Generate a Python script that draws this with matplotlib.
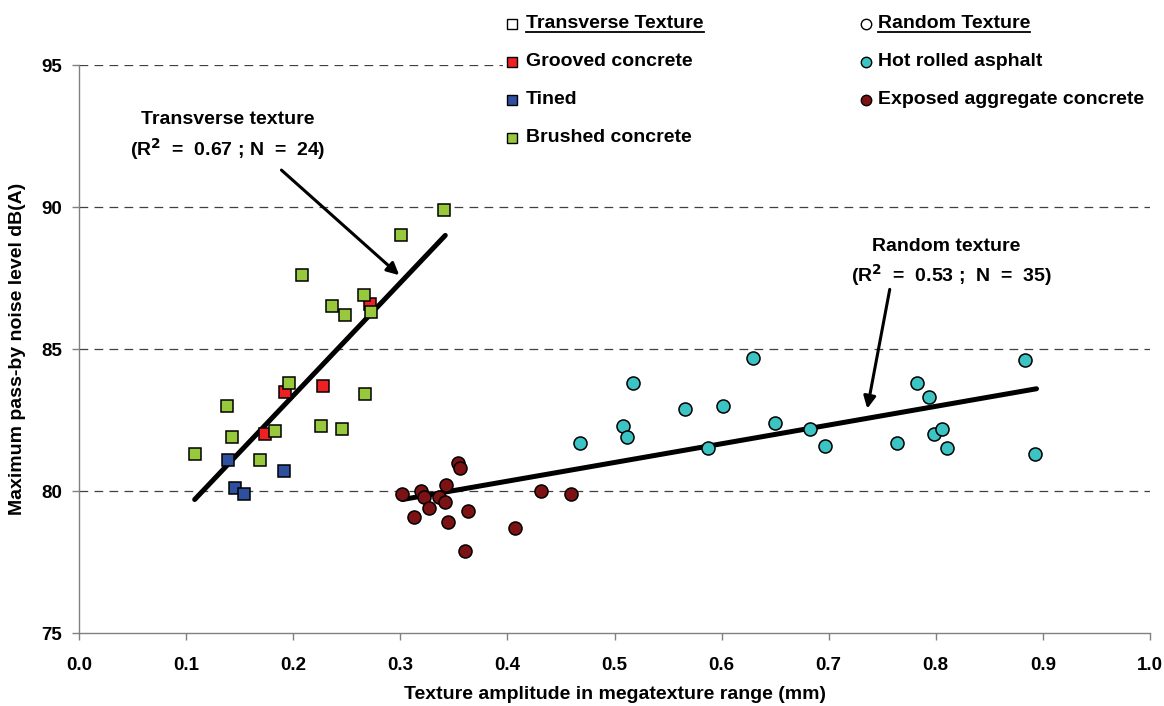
import matplotlib
matplotlib.use("Agg")
import matplotlib.pyplot as plt
from matplotlib.lines import Line2D
from matplotlib.patches import Rectangle

plt.rcParams["font.family"] = ["Liberation Sans", "DejaVu Sans"]
plt.rcParams["font.weight"] = "bold"
plt.rcParams["axes.labelweight"] = "bold"

# --- transverse texture (squares) ---
grooved_x = [0.272, 0.192, 0.228, 0.174]
grooved_y = [86.6, 83.5, 83.7, 82.0]

tined_x = [0.139, 0.191, 0.146, 0.154]
tined_y = [81.1, 80.7, 80.1, 79.9]

brushed_x = [0.341, 0.301, 0.208, 0.266, 0.236, 0.248, 0.273, 0.196,
             0.138, 0.267, 0.143, 0.183, 0.226, 0.246, 0.108, 0.169]
brushed_y = [89.9, 89.0, 87.6, 86.9, 86.5, 86.2, 86.3, 83.8,
             83.0, 83.4, 81.9, 82.1, 82.3, 82.2, 81.3, 81.1]

# --- random texture (circles) ---
asphalt_x = [0.468, 0.508, 0.512, 0.517, 0.566, 0.587, 0.601, 0.629,
             0.650, 0.683, 0.697, 0.764, 0.782, 0.794, 0.798, 0.806,
             0.810, 0.883, 0.893]
asphalt_y = [81.7, 82.3, 81.9, 83.8, 82.9, 81.5, 83.0, 84.7,
             82.4, 82.2, 81.6, 81.7, 83.8, 83.3, 82.0, 82.2,
             81.5, 84.6, 81.3]

exposed_x = [0.302, 0.319, 0.322, 0.343, 0.336, 0.342, 0.327, 0.313,
             0.345, 0.363, 0.354, 0.356, 0.360, 0.407, 0.431, 0.459]
exposed_y = [79.9, 80.0, 79.8, 80.2, 79.8, 79.6, 79.4, 79.1,
             78.9, 79.3, 81.0, 80.8, 77.9, 78.7, 80.0, 79.9]

# trend lines, end points
trans_fit_x = [0.108, 0.342]
trans_fit_y = [79.7, 89.0]
rand_fit_x = [0.302, 0.894]
rand_fit_y = [79.7, 83.6]

x_ticks = [0.0, 0.1, 0.2, 0.3, 0.4, 0.5, 0.6, 0.7, 0.8, 0.9, 1.0]
y_ticks = [75, 80, 85, 90, 95]

RED = "#ee2024"
BLUE = "#2f4f9f"
GREEN = "#98c83c"
CYAN = "#3cc3c3"
MAROON = "#7d1214"

W, H = 1164, 706
fig = plt.figure(figsize=(W / 100, H / 100), dpi=100)
ax = fig.add_axes([79 / W, 1 - 633 / H, (1150 - 79) / W, (633 - 65) / H])

ax.set_xlim(0, 1)
ax.set_ylim(75, 95)
ax.set_xticks(x_ticks)
ax.set_xticklabels([f"{v:.1f}" for v in x_ticks])
ax.set_yticks(y_ticks)
ax.tick_params(labelsize=13.5, length=5, color="#808080", width=1)
ax.tick_params(axis="x", pad=12)
ax.tick_params(axis="y", pad=7)
for s in ["top", "right"]:
    ax.spines[s].set_visible(False)
for s in ["left", "bottom"]:
    ax.spines[s].set_color("#808080")
    ax.spines[s].set_linewidth(1)

for yv in y_ticks[1:]:
    ax.axhline(yv, color="#404040", lw=0.9, ls=(0, (7, 5)), zorder=0)

ax.set_xlabel("Texture amplitude in megatexture range (mm)", fontsize=14, labelpad=9)
ax.set_ylabel("Maximum pass-by noise level dB(A)", fontsize=14, labelpad=11)

# regression lines
ax.plot(trans_fit_x, trans_fit_y, color="black", lw=3.6, solid_capstyle="round", zorder=2)
ax.plot(rand_fit_x, rand_fit_y, color="black", lw=3.6, solid_capstyle="round", zorder=2)

sq = dict(marker="s", ms=8.6, mec="black", mew=1.1, ls="none", zorder=3)
ci = dict(marker="o", ms=9.4, mec="black", mew=1.1, ls="none", zorder=3)
ax.plot(grooved_x, grooved_y, mfc=RED, **sq)
ax.plot(tined_x, tined_y, mfc=BLUE, **sq)
ax.plot(brushed_x, brushed_y, mfc=GREEN, **sq)
ax.plot(exposed_x, exposed_y, mfc=MAROON, **ci)
ax.plot(asphalt_x, asphalt_y, mfc=CYAN, **ci)

# annotations
arrow = dict(arrowstyle="-|>", color="black", lw=2.2, mutation_scale=18, shrinkA=0, shrinkB=0)
ax.annotate("", xy=(0.299, 87.6), xytext=(0.189, 91.3), arrowprops=arrow)
ax.annotate("", xy=(0.736, 82.9), xytext=(0.757, 87.1), arrowprops=arrow)
ax.text(0.139, 93.07, "Transverse texture", ha="center", va="center", fontsize=14)
ax.text(0.139, 92.05, r"(R$^{\mathbf{2}}$  =  0.67 ; N  =  24)", ha="center", va="center", fontsize=14)
ax.text(0.810, 88.62, "Random texture", ha="center", va="center", fontsize=14)
ax.text(0.815, 87.62, r"(R$^{\mathbf{2}}$  =  0.53 ;  N  =  35)", ha="center", va="center", fontsize=14)

# legend drawn by hand: white box, two columns
fig.add_artist(Rectangle((503 / W, 1 - 152 / H), (1162 - 503) / W, 150 / H,
                         transform=fig.transFigure, fc="white", ec="none", zorder=4))
rows = [24, 62, 100, 138]
legend_items = [
    (512, 526, rows[0], "s", "white", "Transverse Texture", True),
    (512, 526, rows[1], "s", RED, "Grooved concrete", False),
    (512, 526, rows[2], "s", BLUE, "Tined", False),
    (512, 526, rows[3], "s", GREEN, "Brushed concrete", False),
    (866, 878, rows[0], "o", "white", "Random Texture", True),
    (866, 878, rows[1], "o", CYAN, "Hot rolled asphalt", False),
    (866, 878, rows[2], "o", MAROON, "Exposed aggregate concrete", False),
]
headers = []
for mx, tx, ry, mk, fc, label, head in legend_items:
    fig.add_artist(Line2D([mx / W], [1 - ry / H], marker=mk, ms=7.5, mfc=fc, mec="black",
                          mew=1.0, ls="none", transform=fig.transFigure, zorder=5))
    t = fig.text(tx / W, 1 - ry / H, label, ha="left", va="center", fontsize=14, zorder=5)
    if head:
        headers.append(t)

fig.canvas.draw()
renderer = fig.canvas.get_renderer()
for t in headers:
    bb = t.get_window_extent(renderer)
    yl = (bb.y0 + 1) / H
    fig.add_artist(Line2D([bb.x0 / W, bb.x1 / W], [yl, yl], color="black", lw=1.3,
                          transform=fig.transFigure, zorder=5))

fig.savefig("out.png", dpi=100)
